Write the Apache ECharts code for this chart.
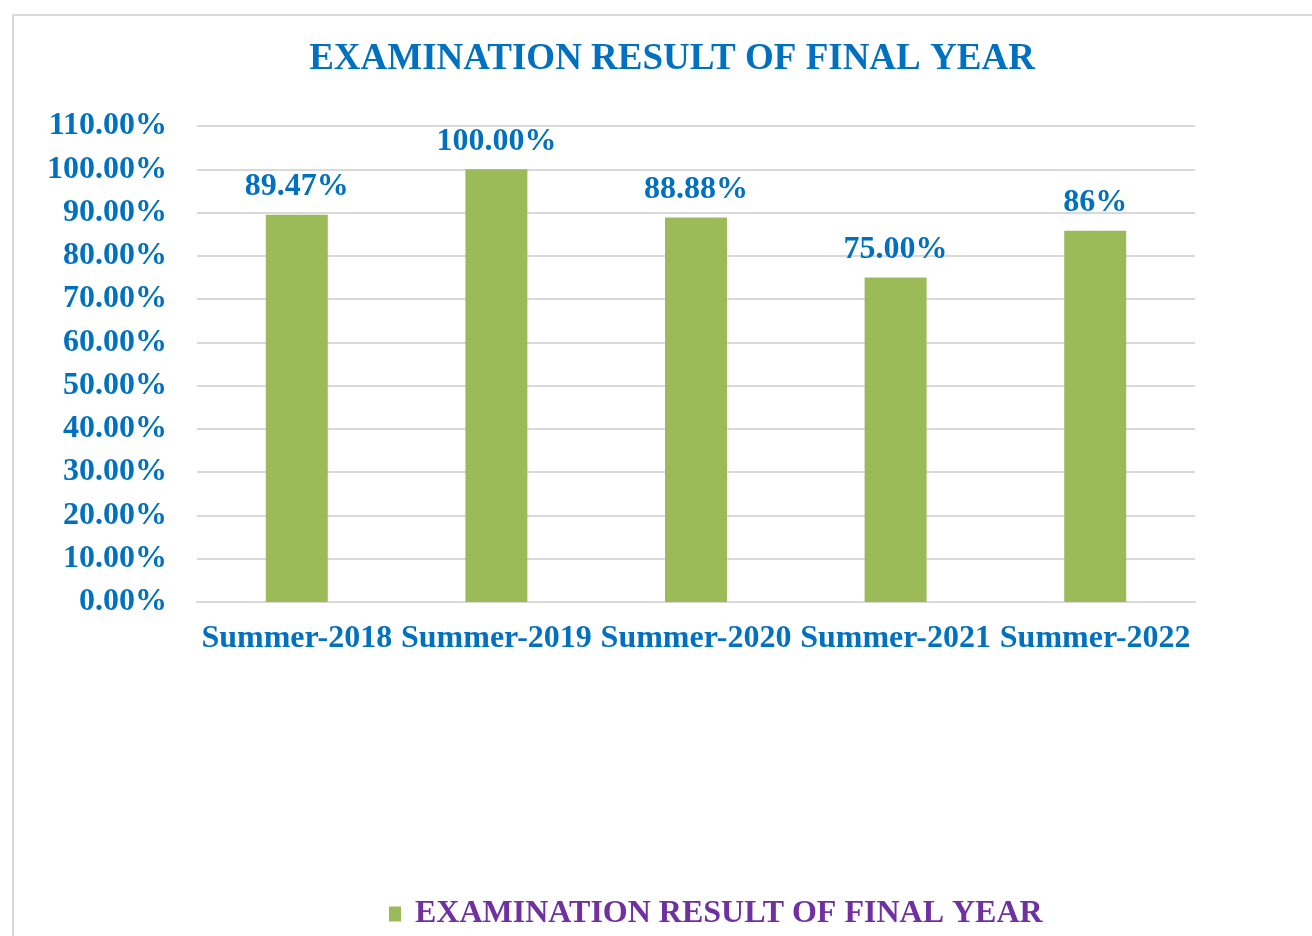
<!DOCTYPE html>
<html><head><meta charset="utf-8">
<script src="https://cdn.jsdelivr.net/npm/echarts@6/dist/echarts.min.js"></script>
<style>
html,body{margin:0;padding:0;background:#fff;}
#frame{position:absolute;left:12px;top:14px;width:1320px;height:940px;border:2px solid #d9d9d9;box-sizing:border-box;}
#c{position:absolute;left:0;top:0;width:1312px;height:936px;}
</style></head>
<body>
<div id="frame"></div>
<div id="c"></div>
<script>
const categories = ['Summer-2018','Summer-2019','Summer-2020','Summer-2021','Summer-2022'];
const values = [89.47, 100, 88.88, 75, 85.8];
const valueLabels = ['89.47%','100.00%','88.88%','75.00%','86%'];
const seriesName = 'EXAMINATION RESULT OF FINAL YEAR';
const titleText = 'EXAMINATION RESULT OF FINAL YEAR';

const blue = '#0070C0';
const font = '"Liberation Serif", "Times New Roman", serif';
const chart = echarts.init(document.getElementById('c'));
chart.setOption({
  animation: false,
  title: {text: titleText, left: 667, top: 36, textAlign: 'center',
    textStyle: {fontFamily: font, fontWeight: 'bold', fontSize: 37, color: blue}},
  legend: {data: [seriesName], left: 384, top: 893, itemWidth: 12, itemHeight: 15, itemGap: 6,
    icon: 'rect',
    textStyle: {fontFamily: font, fontWeight: 'bold', fontSize: 32, color: '#7030A0', padding: [0,0,0,9]}},
  grid: {left: 197, right: 117, top: 126, bottom: 334, containLabel: false},
  xAxis: {type: 'category', data: categories,
    axisLine: {show: true, lineStyle: {color: '#d9d9d9', width: 2}},
    axisTick: {show: false},
    axisLabel: {margin: 21, fontFamily: font, fontWeight: 'bold', fontSize: 32, color: blue, interval: 0}},
  yAxis: {type: 'value', min: 0, max: 110, interval: 10,
    axisLine: {show: false}, axisTick: {show: false},
    splitLine: {lineStyle: {color: '#d9d9d9', width: 2}},
    axisLabel: {margin: 30, fontFamily: font, fontWeight: 'bold', fontSize: 32, color: blue,
      formatter: v => v.toFixed(2) + '%'}},
  series: [{name: seriesName, type: 'bar', data: values, barWidth: 62,
    itemStyle: {color: '#9BBB59'},
    label: {show: true, position: 'top', distance: 12,
      fontFamily: font, fontWeight: 'bold', fontSize: 32, color: blue,
      formatter: p => valueLabels[p.dataIndex]}}]
});
</script>
</body></html>
